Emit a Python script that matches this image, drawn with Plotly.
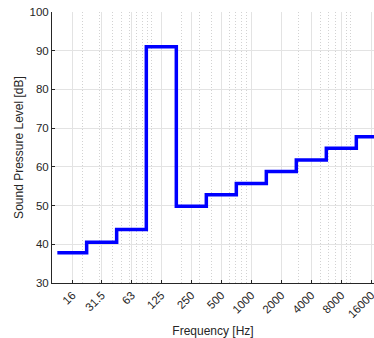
import numpy as np
import plotly.graph_objects as go

# Octave band centre frequencies [Hz] and tick labels
bands = [16, 31.5, 63, 125, 250, 500, 1000, 2000, 4000, 8000, 16000]
tick_labels = ["16", "31.5", "63", "125", "250", "500", "1000", "2000", "4000", "8000", "16000"]
# Sound pressure level per band [dB]
levels = [37.8, 40.5, 43.8, 91.0, 49.8, 52.8, 55.7, 58.8, 61.8, 64.8, 67.8]

# Minor (dotted) log grid positions
minor_vals = [m * 10 ** k for k in range(1, 5) for m in range(2, 11)]

# Stair edges from band centres (octave band edges)
centres = np.array(bands, dtype=float)
edges = list(centres / np.sqrt(2)) + [centres[-1] * np.sqrt(2)]
y_stairs = levels + [levels[-1]]

fig = go.Figure()
fig.add_trace(go.Scatter(
    x=edges, y=y_stairs, mode="lines",
    line=dict(shape="hv", color="#0000ff", width=3.5),
    showlegend=False, hoverinfo="skip", cliponaxis=True,
))

axis_col = "#262626"
tick_font = dict(family="Liberation Sans, Arial, sans-serif", size=11.5, color=axis_col)
title_font = dict(family="Liberation Sans, Arial, sans-serif", size=12, color=axis_col)

fig.update_layout(
    width=374, height=338,
    margin=dict(l=52, r=0, t=12, b=55),
    plot_bgcolor="white", paper_bgcolor="white",
    font=tick_font,
    xaxis=dict(
        type="log",
        range=[1.0, 4.231],
        tickmode="array", tickvals=bands, ticktext=tick_labels,
        tickangle=-45, tickfont=tick_font,
        ticklabeloverflow="allow",
        showgrid=True, gridcolor="#e3e3e3", gridwidth=1,
        showline=True, linecolor=axis_col, linewidth=1,
        ticks="inside", ticklen=3, tickcolor=axis_col,
        minor=dict(tickvals=minor_vals, showgrid=True, griddash="1px,2px",
                   gridcolor="#d2d2d2", gridwidth=1, ticks=""),
        zeroline=False,
        title=dict(text="Frequency [Hz]", font=title_font, standoff=10),
        automargin=False,
    ),
    yaxis=dict(
        range=[30, 100],
        tickmode="array", tickvals=list(range(30, 101, 10)),
        tickfont=tick_font,
        showgrid=True, gridcolor="#e3e3e3", gridwidth=1,
        showline=True, linecolor=axis_col, linewidth=1,
        ticks="inside", ticklen=3, tickcolor=axis_col,
        zeroline=False,
        title=dict(text="Sound Pressure Level [dB]", font=title_font, standoff=3),
        automargin=False,
    ),
)

fig.write_html("out.html")
